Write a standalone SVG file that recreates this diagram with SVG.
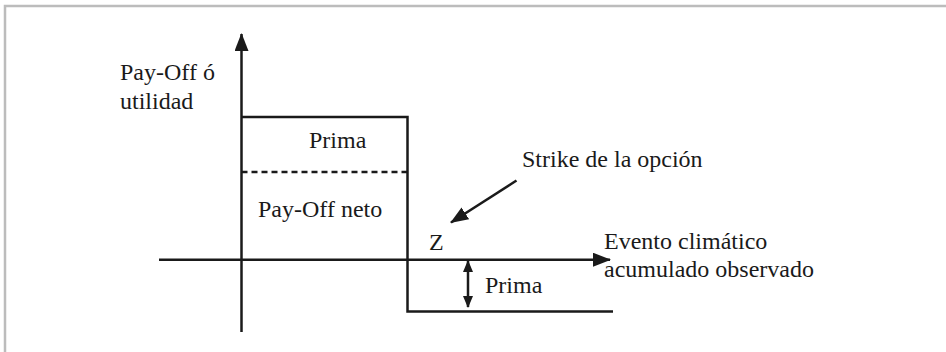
<svg xmlns="http://www.w3.org/2000/svg" width="946" height="352" viewBox="0 0 946 352">
<style>
.ln{stroke:#1a1a1a;stroke-width:2.5;fill:none}
.t{font-family:"Liberation Serif","Times New Roman",serif;font-size:24px;fill:#1a1a1a}
</style>
<defs>
<marker id="ah" markerWidth="18" markerHeight="14" refX="17" refY="7" orient="auto" markerUnits="userSpaceOnUse">
<path d="M0,0 L18,7 L0,14 Z" fill="#1a1a1a"/>
</marker>
<marker id="ahs" markerWidth="12" markerHeight="10" refX="11" refY="5" orient="auto-start-reverse" markerUnits="userSpaceOnUse">
<path d="M0,0 L12,5 L0,10 Z" fill="#1a1a1a"/>
</marker>
</defs>
<rect width="946" height="352" fill="#fff"/>
<g id="frame">
<path d="M5,352 V6 H946" stroke="#bcbcbc" stroke-width="2.5" fill="none"/>
</g>
<g id="connectors">
<line class="ln" x1="241.5" y1="332" x2="241.5" y2="34" marker-end="url(#ah)"/>
<line class="ln" x1="159" y1="259.7" x2="610" y2="259.7" marker-end="url(#ah)"/>
<path class="ln" d="M241.5,117 H407.5 V311.5 H613"/>
<line class="ln" x1="241.5" y1="172" x2="407.5" y2="172" stroke-dasharray="6,4"/>
<line class="ln" x1="516.5" y1="180.5" x2="451" y2="222.5" marker-end="url(#ah)"/>
<line class="ln" x1="468" y1="261" x2="468" y2="307" marker-start="url(#ahs)" marker-end="url(#ahs)"/>
</g>
<g id="label-yaxis">
<text class="t" x="120" y="80">Pay-Off ó</text>
<text class="t" x="120" y="109">utilidad</text>
</g>
<g id="label-prima-top"><text class="t" x="309" y="148">Prima</text></g>
<g id="label-payoff-neto"><text class="t" x="258" y="217">Pay-Off neto</text></g>
<g id="label-strike"><text class="t" x="522" y="167">Strike de la opción</text></g>
<g id="label-z"><text class="t" x="429" y="250">Z</text></g>
<g id="label-xaxis">
<text class="t" x="604" y="249">Evento climático</text>
<text class="t" x="604" y="277">acumulado observado</text>
</g>
<g id="label-prima-bottom"><text class="t" x="485" y="293">Prima</text></g>
</svg>
